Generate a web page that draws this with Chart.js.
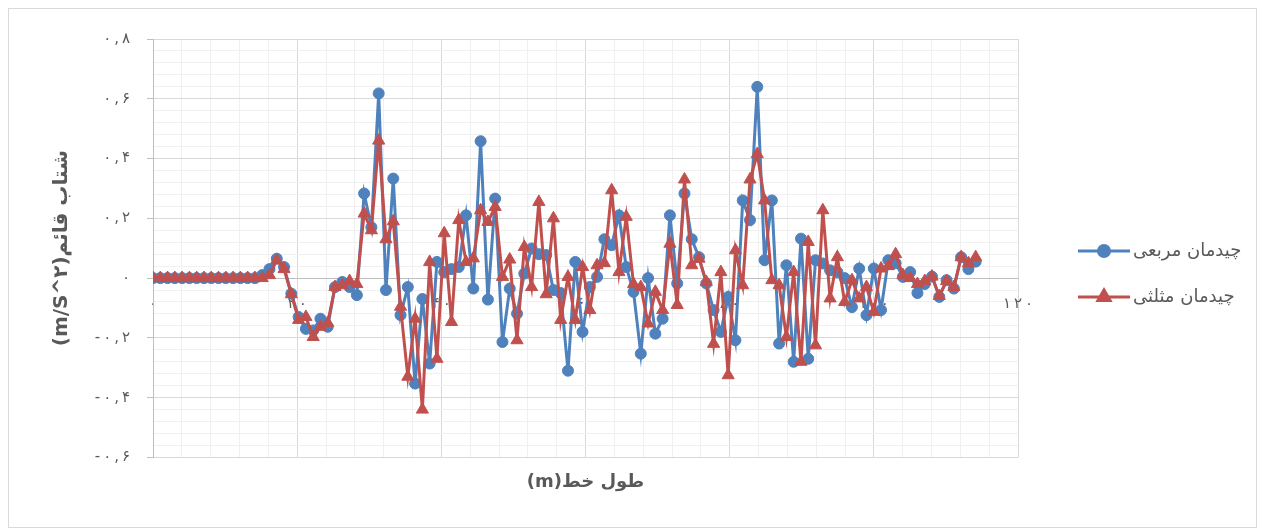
<!DOCTYPE html>
<html>
<head>
<meta charset="utf-8">
<script src="https://cdn.jsdelivr.net/npm/chart.js@4/dist/chart.umd.min.js"></script>
<style>
  html, body { margin: 0; padding: 0; background: #fff; }
  #wrap { position: relative; width: 1264px; height: 530px; }
  #frame { position: absolute; left: 8px; top: 8px; width: 1247px; height: 518px; border: 1px solid #d9d9d9; }
  #chart { position: absolute; left: 0; top: 0; }
</style>
</head>
<body>
<div id="wrap">
  <div id="frame"></div>
  <canvas id="chart" width="1264" height="530"></canvas>
</div>
<script>
// station positions along the line (m)
const xPos = [
  0, 1.01, 2.02, 3.03, 4.04, 5.05, 6.06, 7.07, 8.08, 9.09,
  10.1, 11.11, 12.12, 13.13, 14.14, 15.15, 16.16, 17.17, 18.18, 19.19,
  20.2, 21.21, 22.22, 23.23, 24.24, 25.25, 26.26, 27.27, 28.28, 29.29,
  30.3, 31.31, 32.32, 33.33, 34.34, 35.35, 36.36, 37.37, 38.38, 39.39,
  40.4, 41.41, 42.42, 43.43, 44.44, 45.45, 46.46, 47.47, 48.48, 49.49,
  50.5, 51.51, 52.52, 53.53, 54.54, 55.55, 56.56, 57.57, 58.58, 59.59,
  60.6, 61.61, 62.62, 63.63, 64.64, 65.65, 66.66, 67.67, 68.68, 69.69,
  70.7, 71.71, 72.72, 73.73, 74.74, 75.75, 76.76, 77.77, 78.78, 79.79,
  80.8, 81.81, 82.82, 83.83, 84.84, 85.85, 86.86, 87.87, 88.88, 89.89,
  90.9, 91.91, 92.92, 93.93, 94.94, 95.95, 96.96, 97.97, 98.98, 99.99,
  101, 102.01, 103.02, 104.03, 105.04, 106.05, 107.06, 108.07, 109.08, 110.09,
  111.1, 112.11, 113.12, 114.13
];

// vertical acceleration, square layout
const squareAcc = [
  0, 0, 0, 0, 0, 0, 0, 0, 0, 0,
  0, 0, 0, 0, 0, 0.01, 0.03, 0.065, 0.037, -0.052,
  -0.13, -0.17, -0.175, -0.136, -0.163, -0.03, -0.013, -0.03, -0.057, 0.283,
  0.17, 0.618, -0.04, 0.333, -0.124, -0.03, -0.353, -0.07, -0.286, 0.054,
  0.02, 0.03, 0.037, 0.21, -0.035, 0.458, -0.072, 0.266, -0.214, -0.035,
  -0.119, 0.015, 0.099, 0.08, 0.077, -0.04, -0.05, -0.31, 0.054, -0.18,
  -0.03, 0.004, 0.13, 0.11, 0.21, 0.037, -0.046, -0.253, 0, -0.186,
  -0.136, 0.21, -0.018, 0.283, 0.13, 0.07, -0.018, -0.107, -0.18, -0.063,
  -0.208, 0.26, 0.194, 0.64, 0.06, 0.26, -0.219, 0.043, -0.28, 0.132,
  -0.27, 0.06, 0.049, 0.026, 0.02, 0, -0.097, 0.032, -0.124, 0.032,
  -0.107, 0.06, 0.05, 0.004, 0.02, -0.05, -0.02, 0.005, -0.063, -0.007,
  -0.035, 0.07, 0.03, 0.055
];

// vertical acceleration, triangular layout
const triangleAcc = [
  0, 0, 0, 0, 0, 0, 0, 0, 0, 0,
  0, 0, 0, 0, 0, 0, 0.01, 0.06, 0.03, -0.054,
  -0.14, -0.13, -0.197, -0.163, -0.15, -0.03, -0.024, -0.01, -0.02, 0.216,
  0.16, 0.46, 0.13, 0.19, -0.096, -0.33, -0.136, -0.44, 0.054, -0.27,
  0.15, -0.147, 0.194, 0.054, 0.066, 0.227, 0.188, 0.238, 0.004, 0.062,
  -0.208, 0.104, -0.03, 0.255, -0.054, 0.2, -0.14, 0.004, -0.14, 0.037,
  -0.107, 0.043, 0.05, 0.294, 0.02, 0.205, -0.02, -0.03, -0.152, -0.046,
  -0.107, 0.115, -0.09, 0.33, 0.043, 0.065, -0.013, -0.22, 0.02, -0.325,
  0.093, -0.024, 0.33, 0.415, 0.26, -0.007, -0.024, -0.197, 0.02, -0.28,
  0.121, -0.225, 0.227, -0.068, 0.07, -0.08, -0.007, -0.068, -0.03, -0.113,
  0.032, 0.04, 0.08, 0.01, 0, -0.02, -0.01, 0.005, -0.06, -0.01,
  -0.03, 0.07, 0.05, 0.07
];

const seriesNames = ['چیدمان مربعی', 'چیدمان مثلثی'];
const xTickLabels = ['۰', '۲\u2009۰', '۴\u2009۰', '۶\u2009۰', '۸\u2009۰', '۱\u2009۰\u2009۰', '۱\u2009۲\u2009۰'];
const yTickLabels = [
  '-\u2009۰\u2009,\u2009۶', '-\u2009۰\u2009,\u2009۴', '-\u2009۰\u2009,\u2009۲', '۰',
  '۰\u2009,\u2009۲', '۰\u2009,\u2009۴', '۰\u2009,\u2009۶', '۰\u2009,\u2009۸'
];

const BLUE = '#4f81bd';
const RED = '#c0504d';
const TEXT = '#595959';

Chart.defaults.font.family = '"DejaVu Sans", sans-serif';
Chart.defaults.color = TEXT;

function isMajor(v, step) {
  const r = v / step;
  return Math.abs(r - Math.round(r)) < 1e-6;
}

function gridColor(v, step) {
  if (Math.abs(v) < 1e-9) return '#bfbfbf';
  return isMajor(v, step) ? '#d9d9d9' : '#f0f0f0';
}

// legend on the right: line sample with marker, then the label
const sideLegend = {
  id: 'sideLegend',
  afterDraw(chart) {
    const ctx = chart.ctx;
    const x0 = chart.chartArea.right + 60;
    let y = 251;
    chart.data.datasets.forEach(ds => {
      ctx.save();
      ctx.strokeStyle = ds.borderColor;
      ctx.lineWidth = 3;
      ctx.beginPath();
      ctx.moveTo(x0, y);
      ctx.lineTo(x0 + 52, y);
      ctx.stroke();
      ctx.fillStyle = ds.pointBackgroundColor;
      ctx.strokeStyle = ds.pointBorderColor;
      Chart.helpers.drawPoint(ctx, {
        pointStyle: ds.pointStyle,
        radius: ds.pointRadius,
        borderWidth: 1,
        rotation: 0
      }, x0 + 26, y);
      ctx.fillStyle = TEXT;
      ctx.font = '18px "DejaVu Sans", sans-serif';
      ctx.textAlign = 'left';
      ctx.textBaseline = 'middle';
      ctx.fillText(ds.label, x0 + 55, y);
      ctx.restore();
      y += 46;
    });
  }
};

const ctx = document.getElementById('chart').getContext('2d');
new Chart(ctx, {
  type: 'line',
  data: {
    datasets: [
      {
        label: seriesNames[0],
        data: xPos.map((x, i) => ({ x: x, y: squareAcc[i] })),
        borderColor: BLUE,
        backgroundColor: BLUE,
        pointBackgroundColor: BLUE,
        pointBorderColor: BLUE,
        borderWidth: 3,
        pointStyle: 'circle',
        pointRadius: 5.5,
        pointBorderWidth: 1,
        tension: 0,
        order: 1
      },
      {
        label: seriesNames[1],
        data: xPos.map((x, i) => ({ x: x, y: triangleAcc[i] })),
        borderColor: RED,
        backgroundColor: RED,
        pointBackgroundColor: RED,
        pointBorderColor: RED,
        borderWidth: 3,
        pointStyle: 'triangle',
        pointRadius: 7,
        pointBorderWidth: 1,
        tension: 0,
        order: 0
      }
    ]
  },
  options: {
    responsive: false,
    animation: false,
    devicePixelRatio: 1,
    layout: { padding: { left: 0, top: 39, right: 246, bottom: 0 } },
    plugins: {
      legend: { display: false },
      tooltip: { enabled: false },
      title: {
        display: true,
        position: 'bottom',
        fullSize: false,
        text: '(m)طول خط',
        color: TEXT,
        font: { size: 18, weight: 'bold' },
        padding: { top: 14, bottom: 37 }
      }
    },
    scales: {
      x: {
        type: 'linear',
        axis: 'x',
        position: { y: 0 },
        min: 0,
        max: 120,
        grid: {
          color: c => gridColor(c.tick.value, 20),
          drawTicks: false
        },
        border: { color: '#bfbfbf', width: 1 },
        ticks: {
          stepSize: 4,
          autoSkip: false,
          maxRotation: 0,
          padding: 17,
          color: TEXT,
          font: { size: 15 },
          callback: v => isMajor(v, 20) ? xTickLabels[Math.round(v / 20)] : ''
        }
      },
      y: {
        type: 'linear',
        position: 'left',
        min: -0.6,
        max: 0.8,
        afterFit: s => { s.width = 153; },
        grid: {
          color: c => gridColor(c.tick.value, 0.2),
          tickColor: c => isMajor(c.tick.value, 0.2) ? '#bfbfbf' : 'rgba(0,0,0,0)',
          tickLength: 6
        },
        border: { color: '#bfbfbf', width: 1 },
        ticks: {
          stepSize: 0.04,
          autoSkip: false,
          padding: 17,
          color: TEXT,
          font: { size: 15 },
          callback: v => isMajor(v, 0.2) ? yTickLabels[Math.round((v + 0.6) / 0.2)] : ''
        },
        title: {
          display: true,
          text: '(m/S^۲)شتاب قائم',
          color: TEXT,
          font: { size: 20, weight: 'bold' },
          padding: { top: 50, bottom: 0 }
        }
      }
    }
  },
  plugins: [sideLegend]
});
</script>
</body>
</html>
